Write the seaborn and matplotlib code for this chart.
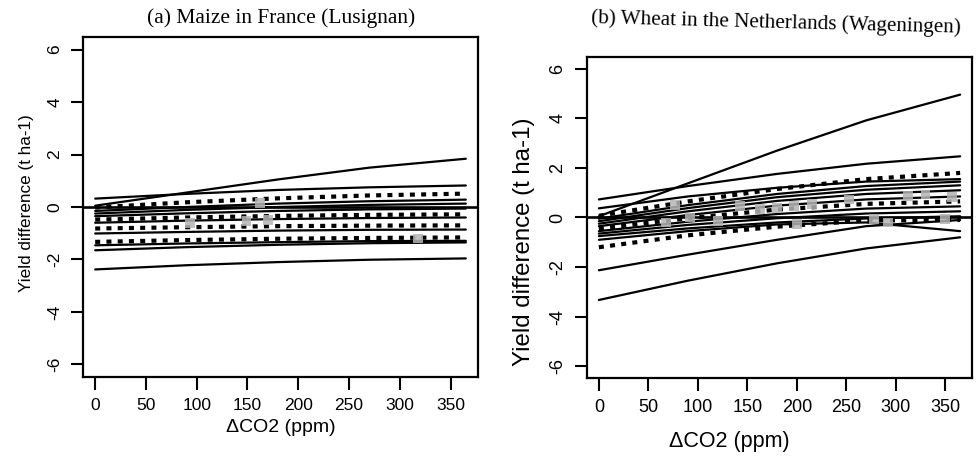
import numpy as np
import pandas as pd
import matplotlib
matplotlib.use("Agg")
import matplotlib.pyplot as plt
import seaborn as sns

# ---------------- data ----------------
co2 = [0, 90, 180, 270, 365]

# panel (a) Maize in France: yield difference (t/ha) at the co2 points
maize_lines = {
    "a1":  [0.05, 0.55, 1.05, 1.50, 1.84],
    "a2":  [0.32, 0.50, 0.65, 0.75, 0.82],
    "a3":  [-0.02, 0.18, 0.33, 0.44, 0.51],
    "a4":  [-0.15, 0.00, 0.13, 0.22, 0.28],
    "a5":  [-0.25, -0.11, 0.00, 0.08, 0.13],
    "a6":  [-0.35, -0.24, -0.15, -0.09, -0.06],
    "a7":  [-0.48, -0.40, -0.34, -0.30, -0.28],
    "a8":  [-0.60, -0.52, -0.46, -0.42, -0.40],
    "a9":  [-0.82, -0.77, -0.73, -0.71, -0.70],
    "a10": [-1.01, -0.95, -0.90, -0.87, -0.86],
    "a11": [-1.33, -1.26, -1.21, -1.18, -1.16],
    "a12": [-1.46, -1.39, -1.34, -1.30, -1.29],
    "a13": [-1.65, -1.53, -1.44, -1.38, -1.35],
    "a14": [-2.38, -2.22, -2.10, -2.01, -1.96],
}
maize_dotted = ["a3", "a7", "a9", "a11"]
maize_pts_x = [93, 149, 162, 170, 318]
maize_pts_y = [-0.62, -0.54, 0.15, -0.50, -1.20]

# panel (b) Wheat in the Netherlands
wheat_lines = {
    "b1":  [0.05, 1.38, 2.70, 3.92, 4.96],
    "b2":  [0.73, 1.27, 1.76, 2.17, 2.47],
    "b3":  [0.37, 0.85, 1.20, 1.45, 1.55],
    "b4":  [0.07, 0.65, 1.15, 1.55, 1.80],
    "b5":  [-0.05, 0.50, 0.95, 1.27, 1.45],
    "b6":  [-0.15, 0.38, 0.82, 1.12, 1.30],
    "b7":  [-0.25, 0.25, 0.67, 0.95, 1.10],
    "b8":  [-0.35, 0.10, 0.48, 0.73, 0.85],
    "b9":  [-0.45, -0.03, 0.32, 0.55, 0.65],
    "b10": [-0.55, -0.17, 0.14, 0.36, 0.45],
    "b11": [-0.65, -0.30, -0.03, 0.16, 0.25],
    "b12": [-0.75, -0.44, -0.20, -0.04, 0.05],
    "b13": [-0.90, -0.55, -0.28, -0.20, -0.55],
    "b14": [-1.20, -0.72, -0.37, -0.12, -0.10],
    "b15": [-2.13, -1.50, -0.90, -0.35, -0.10],
    "b16": [-3.33, -2.55, -1.85, -1.25, -0.80],
}
wheat_dotted = ["b4", "b9", "b14"]
wheat_pts_x = [68, 77, 92, 120, 143, 163, 180, 197, 200, 215, 253, 278, 292, 312, 330, 350, 357]
wheat_pts_y = [-0.20, 0.50, 0.00, -0.13, 0.47, 0.35, 0.40, 0.47, -0.27, 0.53, 0.73,
               -0.07, -0.20, 0.87, 0.93, -0.07, 0.83]

x_ticks = [0, 50, 100, 150, 200, 250, 300, 350]
y_ticks = [-6, -4, -2, 0, 2, 4, 6]
titles = ["(a) Maize in France (Lusignan)", "(b) Wheat in the Netherlands (Wageningen)"]

# ---------------- drawing ----------------
sns.set_theme(style="ticks")
plt.rcParams["font.family"] = ["Liberation Sans", "DejaVu Sans"]

W, H = 977, 457
fig = plt.figure(figsize=(W / 100, H / 100), dpi=100)
ax_a = fig.add_axes([83 / W, 1 - 377 / H, 395 / W, 340 / H])
ax_b = fig.add_axes([587 / W, 1 - 378 / H, 385 / W, 321 / H])


def draw(ax, lines, dotted, px, py, lfs_x, lfs_y, tickfs, xlab_xy, ylab_xy):
    for name, vals in lines.items():
        df = pd.DataFrame({"co2": co2, "yd": vals})
        if name in dotted:
            sns.lineplot(data=df, x="co2", y="yd", ax=ax, color="black", lw=3.0,
                         linestyle=(0, (1.2, 1.5)))
        else:
            sns.lineplot(data=df, x="co2", y="yd", ax=ax, color="black", lw=1.6)
    ax.axhline(0, color="black", lw=1.9)
    sns.scatterplot(x=px, y=py, ax=ax, color="#b4b4b4", marker="s", s=50,
                    edgecolor="none", alpha=0.85, zorder=5)
    ax.set_xlim(-12, 377)
    ax.set_ylim(-6.48, 6.48)
    ax.set_xticks(x_ticks)
    ax.set_yticks(y_ticks)
    ax.set_yticklabels([str(v) for v in y_ticks], rotation=90, va="center")
    ax.tick_params(axis="both", direction="out", length=9, width=1.5,
                   labelsize=tickfs, pad=6, color="black", labelcolor="black")
    for s in ax.spines.values():
        s.set_visible(True)
        s.set_linewidth(1.6)
        s.set_color("black")
    ax.set_xlabel("ΔCO2 (ppm)", fontsize=lfs_x, color="black")
    ax.xaxis.set_label_coords(*xlab_xy)
    ax.set_ylabel("Yield difference (t ha-1)", fontsize=lfs_y, color="black")
    ax.yaxis.set_label_coords(*ylab_xy)
    ax.set_facecolor("white")


draw(ax_a, maize_lines, maize_dotted, maize_pts_x, maize_pts_y, 14, 12.3, 12.5,
     (0.5, -0.125), (-0.125, 0.51))
draw(ax_b, wheat_lines, wheat_dotted, wheat_pts_x, wheat_pts_y, 15.5, 17.3, 13,
     (0.37, -0.165), (-0.135, 0.424))

fig.text(281 / W, 1 - 18 / H, titles[0], family=["Liberation Serif", "DejaVu Serif"],
         fontsize=15.5, ha="center", va="center", color="black")
fig.text(776 / W, 1 - 23 / H, titles[1], family=["Liberation Serif", "DejaVu Serif"],
         fontsize=15.2, ha="center", va="center", color="black", rotation=-1.5)

fig.savefig("out.png", dpi=100, facecolor="white")
